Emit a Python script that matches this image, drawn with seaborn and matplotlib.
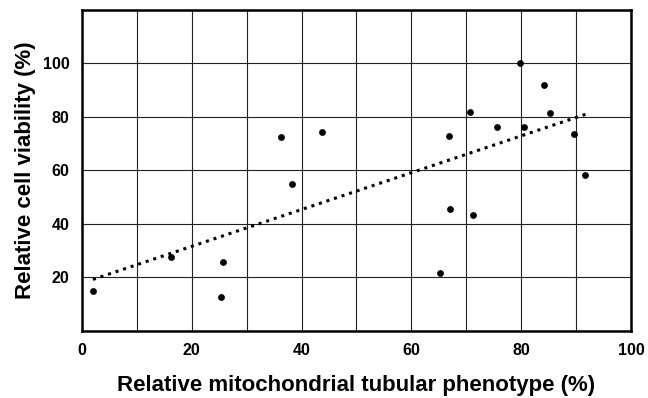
import matplotlib
matplotlib.use("Agg")
import matplotlib.pyplot as plt
import pandas as pd
import seaborn as sns

# ==============================================================================: DATA
tubular = [2.0, 16.3, 25.7, 25.4, 36.3, 38.2, 43.8, 65.2, 66.8, 67.0, 71.2,
           70.6, 75.6, 79.8, 80.5, 84.1, 85.3, 89.6, 91.7]
viability = [15.0, 27.8, 25.8, 12.6, 72.6, 55.0, 74.4, 21.8, 73.0, 45.6, 43.5,
             81.8, 76.2, 100.0, 76.4, 91.8, 81.6, 73.6, 58.4]
x_ticks = [0, 20, 40, 60, 80, 100]
y_ticks = [20, 40, 60, 80, 100]

df = pd.DataFrame({"tubular": tubular, "viability": viability})

# ==============================================================================: PLOT
sns.set_style("white")
plt.rcParams["font.family"] = ["Liberation Sans", "DejaVu Sans"]
plt.rcParams["text.color"] = "black"
plt.rcParams["xtick.color"] = "black"
plt.rcParams["ytick.color"] = "black"
plt.rcParams["axes.labelcolor"] = "black"

fig = plt.figure(figsize=(6.48, 3.98), dpi=100)
ax = fig.add_axes([0.1265, 0.1686, 0.8473, 0.8063])

sns.regplot(data=df, x="tubular", y="viability", ax=ax, ci=None, truncate=True,
            scatter_kws={"s": 24, "color": "black", "linewidths": 0, "alpha": 1},
            line_kws={"color": "black", "linestyle": (0, (1, 1.6)), "linewidth": 2.2})

ax.set_xlim(0, 100)
ax.set_ylim(0, 120)
ax.set_xticks(range(0, 101, 10))
ax.set_yticks(range(0, 121, 20))
ax.grid(True, color="#222222", linewidth=0.8)
ax.set_axisbelow(True)

# labels only at selected ticks
ax.set_xticklabels([str(v) if v in x_ticks else "" for v in range(0, 101, 10)])
ax.set_yticklabels([str(v) if v in y_ticks else "" for v in range(0, 121, 20)])
ax.tick_params(axis="both", length=0, labelsize=11.5, labelcolor="black")
ax.tick_params(axis="x", pad=9)
ax.tick_params(axis="y", pad=9)
for lab in ax.get_xticklabels() + ax.get_yticklabels():
    lab.set_fontweight("bold")

for side in ["left", "right", "top", "bottom"]:
    ax.spines[side].set_color("black")
    ax.spines[side].set_linewidth(1.8)

ax.set_xlabel("Relative mitochondrial tubular phenotype (%)", fontsize=16, fontweight="bold",
              labelpad=12, color="black")
ax.set_ylabel("Relative cell viability (%)", fontsize=16, fontweight="bold",
              labelpad=5, color="black")

fig.savefig("out.png", dpi=100)
